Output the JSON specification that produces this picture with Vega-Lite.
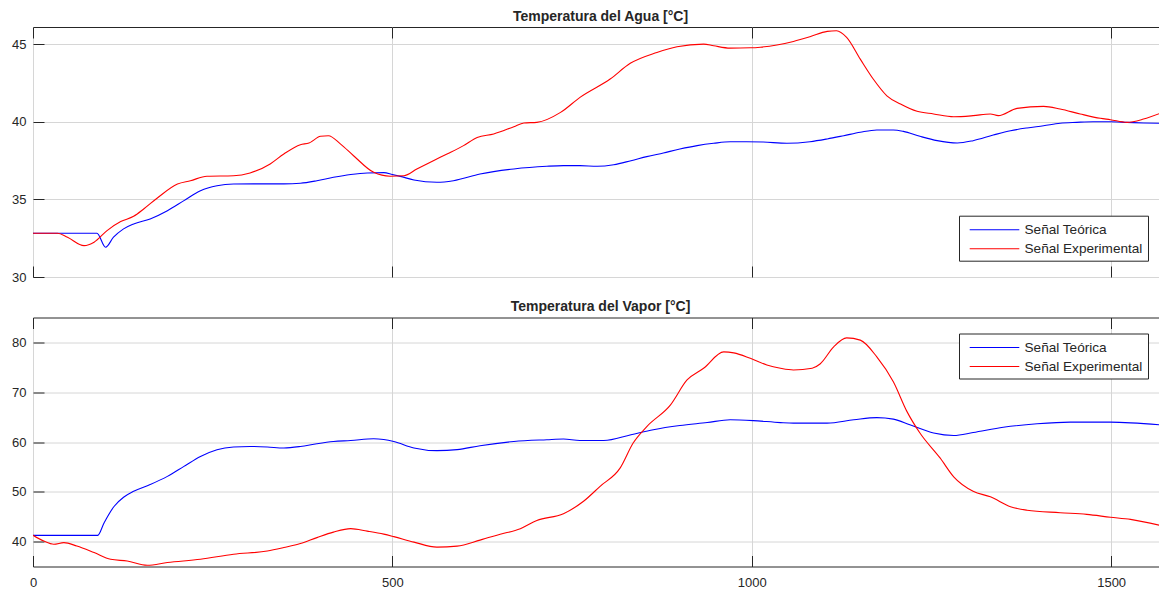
{
  "$schema": "https://vega.github.io/schema/vega-lite/v6.json",
  "padding": {"top": 9, "left": 0, "right": 0, "bottom": 0},
  "datasets": {
    "agua": [
      {"s":"Señal Teórica","t":0,"v":32.82},{"s":"Señal Teórica","t":89,"v":32.82},{"s":"Señal Teórica","t":101,"v":31.92},{"s":"Señal Teórica","t":112,"v":32.56},{"s":"Señal Teórica","t":126,"v":33.1},{"s":"Señal Teórica","t":140,"v":33.42},{"s":"Señal Teórica","t":163,"v":33.74},{"s":"Señal Teórica","t":187,"v":34.27},{"s":"Señal Teórica","t":210,"v":34.92},{"s":"Señal Teórica","t":233,"v":35.56},{"s":"Señal Teórica","t":256,"v":35.88},{"s":"Señal Teórica","t":279,"v":35.99},{"s":"Señal Teórica","t":326,"v":36.0},{"s":"Señal Teórica","t":349,"v":36.0},{"s":"Señal Teórica","t":372,"v":36.04},{"s":"Señal Teórica","t":395,"v":36.2},{"s":"Señal Teórica","t":418,"v":36.42},{"s":"Señal Teórica","t":442,"v":36.6},{"s":"Señal Teórica","t":465,"v":36.7},{"s":"Señal Teórica","t":488,"v":36.72},{"s":"Señal Teórica","t":500,"v":36.6},{"s":"Señal Teórica","t":511,"v":36.48},{"s":"Señal Teórica","t":530,"v":36.25},{"s":"Señal Teórica","t":562,"v":36.1},{"s":"Señal Teórica","t":585,"v":36.2},{"s":"Señal Teórica","t":622,"v":36.63},{"s":"Señal Teórica","t":669,"v":36.96},{"s":"Señal Teórica","t":715,"v":37.13},{"s":"Señal Teórica","t":738,"v":37.17},{"s":"Señal Teórica","t":761,"v":37.17},{"s":"Señal Teórica","t":785,"v":37.13},{"s":"Señal Teórica","t":808,"v":37.23},{"s":"Señal Teórica","t":832,"v":37.49},{"s":"Señal Teórica","t":854,"v":37.75},{"s":"Señal Teórica","t":877,"v":37.99},{"s":"Señal Teórica","t":900,"v":38.24},{"s":"Señal Teórica","t":924,"v":38.46},{"s":"Señal Teórica","t":947,"v":38.61},{"s":"Señal Teórica","t":970,"v":38.71},{"s":"Señal Teórica","t":993,"v":38.71},{"s":"Señal Teórica","t":1016,"v":38.69},{"s":"Señal Teórica","t":1049,"v":38.61},{"s":"Señal Teórica","t":1081,"v":38.71},{"s":"Señal Teórica","t":1105,"v":38.89},{"s":"Señal Teórica","t":1128,"v":39.1},{"s":"Señal Teórica","t":1151,"v":39.32},{"s":"Señal Teórica","t":1174,"v":39.47},{"s":"Señal Teórica","t":1197,"v":39.47},{"s":"Señal Teórica","t":1211,"v":39.38},{"s":"Señal Teórica","t":1234,"v":39.06},{"s":"Señal Teórica","t":1258,"v":38.78},{"s":"Señal Teórica","t":1286,"v":38.63},{"s":"Señal Teórica","t":1308,"v":38.78},{"s":"Señal Teórica","t":1336,"v":39.14},{"s":"Señal Teórica","t":1360,"v":39.42},{"s":"Señal Teórica","t":1383,"v":39.6},{"s":"Señal Teórica","t":1406,"v":39.74},{"s":"Señal Teórica","t":1429,"v":39.9},{"s":"Señal Teórica","t":1452,"v":39.96},{"s":"Señal Teórica","t":1475,"v":40.0},{"s":"Señal Teórica","t":1499,"v":40.0},{"s":"Señal Teórica","t":1522,"v":39.96},{"s":"Señal Teórica","t":1545,"v":39.92},{"s":"Señal Teórica","t":1568,"v":39.9},
      {"s":"Señal Experimental","t":0,"v":32.82},{"s":"Señal Experimental","t":34,"v":32.82},{"s":"Señal Experimental","t":48,"v":32.56},{"s":"Señal Experimental","t":71,"v":32.02},{"s":"Señal Experimental","t":85,"v":32.24},{"s":"Señal Experimental","t":103,"v":32.99},{"s":"Señal Experimental","t":122,"v":33.57},{"s":"Señal Experimental","t":140,"v":33.91},{"s":"Señal Experimental","t":154,"v":34.38},{"s":"Señal Experimental","t":173,"v":35.09},{"s":"Señal Experimental","t":201,"v":35.99},{"s":"Señal Experimental","t":219,"v":36.2},{"s":"Señal Experimental","t":242,"v":36.49},{"s":"Señal Experimental","t":279,"v":36.52},{"s":"Señal Experimental","t":302,"v":36.7},{"s":"Señal Experimental","t":330,"v":37.28},{"s":"Señal Experimental","t":349,"v":37.92},{"s":"Señal Experimental","t":372,"v":38.52},{"s":"Señal Experimental","t":384,"v":38.63},{"s":"Señal Experimental","t":400,"v":39.06},{"s":"Señal Experimental","t":411,"v":39.1},{"s":"Señal Experimental","t":428,"v":38.56},{"s":"Señal Experimental","t":446,"v":37.81},{"s":"Señal Experimental","t":474,"v":36.74},{"s":"Señal Experimental","t":497,"v":36.49},{"s":"Señal Experimental","t":516,"v":36.52},{"s":"Señal Experimental","t":534,"v":36.95},{"s":"Señal Experimental","t":557,"v":37.49},{"s":"Señal Experimental","t":576,"v":37.92},{"s":"Señal Experimental","t":599,"v":38.46},{"s":"Señal Experimental","t":618,"v":38.99},{"s":"Señal Experimental","t":641,"v":39.21},{"s":"Señal Experimental","t":669,"v":39.68},{"s":"Señal Experimental","t":683,"v":39.92},{"s":"Señal Experimental","t":701,"v":39.96},{"s":"Señal Experimental","t":734,"v":40.6},{"s":"Señal Experimental","t":761,"v":41.57},{"s":"Señal Experimental","t":803,"v":42.75},{"s":"Señal Experimental","t":831,"v":43.76},{"s":"Señal Experimental","t":868,"v":44.46},{"s":"Señal Experimental","t":896,"v":44.83},{"s":"Señal Experimental","t":933,"v":45.0},{"s":"Señal Experimental","t":947,"v":44.89},{"s":"Señal Experimental","t":970,"v":44.74},{"s":"Señal Experimental","t":998,"v":44.76},{"s":"Señal Experimental","t":1012,"v":44.8},{"s":"Señal Experimental","t":1035,"v":44.94},{"s":"Señal Experimental","t":1058,"v":45.17},{"s":"Señal Experimental","t":1081,"v":45.47},{"s":"Señal Experimental","t":1105,"v":45.82},{"s":"Señal Experimental","t":1118,"v":45.86},{"s":"Señal Experimental","t":1132,"v":45.43},{"s":"Señal Experimental","t":1151,"v":44.03},{"s":"Señal Experimental","t":1169,"v":42.75},{"s":"Señal Experimental","t":1188,"v":41.67},{"s":"Señal Experimental","t":1207,"v":41.14},{"s":"Señal Experimental","t":1230,"v":40.67},{"s":"Señal Experimental","t":1253,"v":40.5},{"s":"Señal Experimental","t":1281,"v":40.32},{"s":"Señal Experimental","t":1308,"v":40.39},{"s":"Señal Experimental","t":1332,"v":40.5},{"s":"Señal Experimental","t":1343,"v":40.39},{"s":"Señal Experimental","t":1369,"v":40.86},{"s":"Señal Experimental","t":1406,"v":40.99},{"s":"Señal Experimental","t":1429,"v":40.82},{"s":"Señal Experimental","t":1457,"v":40.5},{"s":"Señal Experimental","t":1485,"v":40.22},{"s":"Señal Experimental","t":1499,"v":40.13},{"s":"Señal Experimental","t":1522,"v":39.96},{"s":"Señal Experimental","t":1545,"v":40.17},{"s":"Señal Experimental","t":1568,"v":40.54}
    ],
    "vapor": [
      {"s":"Señal Teórica","t":0,"v":41.26},{"s":"Señal Teórica","t":90,"v":41.26},{"s":"Señal Teórica","t":99,"v":43.8},{"s":"Señal Teórica","t":113,"v":47.1},{"s":"Señal Teórica","t":126,"v":48.9},{"s":"Señal Teórica","t":140,"v":50.1},{"s":"Señal Teórica","t":163,"v":51.46},{"s":"Señal Teórica","t":187,"v":53.1},{"s":"Señal Teórica","t":210,"v":55.1},{"s":"Señal Teórica","t":233,"v":57.1},{"s":"Señal Teórica","t":256,"v":58.46},{"s":"Señal Teórica","t":279,"v":59.0},{"s":"Señal Teórica","t":302,"v":59.1},{"s":"Señal Teórica","t":326,"v":59.0},{"s":"Señal Teórica","t":349,"v":58.8},{"s":"Señal Teórica","t":372,"v":59.1},{"s":"Señal Teórica","t":395,"v":59.66},{"s":"Señal Teórica","t":418,"v":60.1},{"s":"Señal Teórica","t":442,"v":60.3},{"s":"Señal Teórica","t":474,"v":60.66},{"s":"Señal Teórica","t":488,"v":60.5},{"s":"Señal Teórica","t":502,"v":60.1},{"s":"Señal Teórica","t":530,"v":58.8},{"s":"Señal Teórica","t":562,"v":58.26},{"s":"Señal Teórica","t":590,"v":58.46},{"s":"Señal Teórica","t":622,"v":59.26},{"s":"Señal Teórica","t":669,"v":60.1},{"s":"Señal Teórica","t":715,"v":60.46},{"s":"Señal Teórica","t":738,"v":60.6},{"s":"Señal Teórica","t":761,"v":60.3},{"s":"Señal Teórica","t":794,"v":60.3},{"s":"Señal Teórica","t":832,"v":61.46},{"s":"Señal Teórica","t":863,"v":62.46},{"s":"Señal Teórica","t":900,"v":63.3},{"s":"Señal Teórica","t":938,"v":63.9},{"s":"Señal Teórica","t":970,"v":64.46},{"s":"Señal Teórica","t":1002,"v":64.3},{"s":"Señal Teórica","t":1040,"v":63.9},{"s":"Señal Teórica","t":1058,"v":63.8},{"s":"Señal Teórica","t":1105,"v":63.8},{"s":"Señal Teórica","t":1142,"v":64.46},{"s":"Señal Teórica","t":1174,"v":64.9},{"s":"Señal Teórica","t":1197,"v":64.6},{"s":"Señal Teórica","t":1220,"v":63.46},{"s":"Señal Teórica","t":1253,"v":61.8},{"s":"Señal Teórica","t":1281,"v":61.3},{"s":"Señal Teórica","t":1308,"v":61.9},{"s":"Señal Teórica","t":1350,"v":62.96},{"s":"Señal Teórica","t":1397,"v":63.66},{"s":"Señal Teórica","t":1443,"v":64.0},{"s":"Señal Teórica","t":1499,"v":64.0},{"s":"Señal Teórica","t":1568,"v":63.46},
      {"s":"Señal Experimental","t":0,"v":41.26},{"s":"Señal Experimental","t":15,"v":40.1},{"s":"Señal Experimental","t":29,"v":39.46},{"s":"Señal Experimental","t":43,"v":39.8},{"s":"Señal Experimental","t":61,"v":39.1},{"s":"Señal Experimental","t":85,"v":37.8},{"s":"Señal Experimental","t":108,"v":36.46},{"s":"Señal Experimental","t":131,"v":36.1},{"s":"Señal Experimental","t":159,"v":35.26},{"s":"Señal Experimental","t":187,"v":35.8},{"s":"Señal Experimental","t":233,"v":36.46},{"s":"Señal Experimental","t":279,"v":37.46},{"s":"Señal Experimental","t":326,"v":38.1},{"s":"Señal Experimental","t":349,"v":38.8},{"s":"Señal Experimental","t":372,"v":39.6},{"s":"Señal Experimental","t":395,"v":40.8},{"s":"Señal Experimental","t":418,"v":41.9},{"s":"Señal Experimental","t":442,"v":42.6},{"s":"Señal Experimental","t":465,"v":42.1},{"s":"Señal Experimental","t":488,"v":41.5},{"s":"Señal Experimental","t":502,"v":41.0},{"s":"Señal Experimental","t":530,"v":39.9},{"s":"Señal Experimental","t":562,"v":38.9},{"s":"Señal Experimental","t":590,"v":39.1},{"s":"Señal Experimental","t":622,"v":40.3},{"s":"Señal Experimental","t":650,"v":41.46},{"s":"Señal Experimental","t":678,"v":42.6},{"s":"Señal Experimental","t":701,"v":44.26},{"s":"Señal Experimental","t":738,"v":45.6},{"s":"Señal Experimental","t":766,"v":48.1},{"s":"Señal Experimental","t":789,"v":51.1},{"s":"Señal Experimental","t":817,"v":54.8},{"s":"Señal Experimental","t":835,"v":59.8},{"s":"Señal Experimental","t":854,"v":63.1},{"s":"Señal Experimental","t":887,"v":67.46},{"s":"Señal Experimental","t":910,"v":72.46},{"s":"Señal Experimental","t":933,"v":74.8},{"s":"Señal Experimental","t":961,"v":78.1},{"s":"Señal Experimental","t":975,"v":77.9},{"s":"Señal Experimental","t":998,"v":76.8},{"s":"Señal Experimental","t":1021,"v":75.46},{"s":"Señal Experimental","t":1040,"v":74.8},{"s":"Señal Experimental","t":1058,"v":74.46},{"s":"Señal Experimental","t":1084,"v":74.8},{"s":"Señal Experimental","t":1095,"v":75.66},{"s":"Señal Experimental","t":1114,"v":79.1},{"s":"Señal Experimental","t":1132,"v":80.9},{"s":"Señal Experimental","t":1151,"v":80.46},{"s":"Señal Experimental","t":1174,"v":77.1},{"s":"Señal Experimental","t":1197,"v":72.1},{"s":"Señal Experimental","t":1216,"v":66.1},{"s":"Señal Experimental","t":1234,"v":61.8},{"s":"Señal Experimental","t":1262,"v":56.8},{"s":"Señal Experimental","t":1281,"v":53.0},{"s":"Señal Experimental","t":1308,"v":50.1},{"s":"Señal Experimental","t":1332,"v":49.0},{"s":"Señal Experimental","t":1360,"v":47.0},{"s":"Señal Experimental","t":1383,"v":46.3},{"s":"Señal Experimental","t":1429,"v":45.8},{"s":"Señal Experimental","t":1466,"v":45.46},{"s":"Señal Experimental","t":1499,"v":44.9},{"s":"Señal Experimental","t":1527,"v":44.46},{"s":"Señal Experimental","t":1568,"v":43.26}
    ]
  },
  "vconcat": [
    {
      "width": 1127,
      "height": 250,
      "title": {"text": "Temperatura del Agua [°C]", "dx": 4},
      "data": {"name": "agua"},
      "layer": [
        {
          "mark": {"type": "line", "strokeWidth": 1.1, "clip": true, "interpolate": "monotone"},
          "encoding": {
            "x": {"field": "t", "type": "quantitative", "scale": {"domain": [0, 1568], "nice": false, "zero": false},
                  "axis": {"title": null, "values": [0, 500, 1000, 1500], "labels": false, "labelPadding": 6}},
            "y": {"field": "v", "type": "quantitative", "scale": {"domain": [30, 46.1], "nice": false, "zero": false},
                  "axis": {"title": null, "values": [30, 35, 40, 45]}},
            "color": {"field": "s", "type": "nominal",
                      "scale": {"domain": ["Señal Teórica", "Señal Experimental"], "range": ["#0000ff", "#ff0000"]},
                      "legend": {"title": null, "orient": "none", "legendX": 926, "legendY": 188.7}}
          }
        },
        {
          "mark": {"type": "point", "opacity": 0},
          "encoding": {
            "x": {"field": "t", "type": "quantitative", "scale": {"domain": [0, 1568], "nice": false, "zero": false},
                  "axis": {"title": null, "orient": "top", "values": [0, 500, 1000, 1500], "labels": false, "grid": false, "labelPadding": 0}},
            "y": {"field": "v", "type": "quantitative"}
          }
        }
      ],
      "resolve": {"axis": {"x": "independent"}}
    },
    {
      "width": 1127,
      "height": 249,
      "title": {"text": "Temperatura del Vapor [°C]", "dx": 4},
      "data": {"name": "vapor"},
      "layer": [
        {
          "mark": {"type": "line", "strokeWidth": 1.1, "clip": true, "interpolate": "monotone"},
          "encoding": {
            "x": {"field": "t", "type": "quantitative", "scale": {"domain": [0, 1568], "nice": false, "zero": false},
                  "axis": {"title": null, "values": [0, 500, 1000, 1500], "format": "d", "labelPadding": 20.5, "labelFlush": false}},
            "y": {"field": "v", "type": "quantitative", "scale": {"domain": [35, 85], "nice": false, "zero": false},
                  "axis": {"title": null, "values": [40, 50, 60, 70, 80]}},
            "color": {"field": "s", "type": "nominal",
                      "scale": {"domain": ["Señal Teórica", "Señal Experimental"], "range": ["#0000ff", "#ff0000"]},
                      "legend": {"title": null, "orient": "none", "legendX": 926, "legendY": 16}}
          }
        },
        {
          "mark": {"type": "point", "opacity": 0},
          "encoding": {
            "x": {"field": "t", "type": "quantitative", "scale": {"domain": [0, 1568], "nice": false, "zero": false},
                  "axis": {"title": null, "orient": "top", "values": [0, 500, 1000, 1500], "labels": false, "grid": false, "labelPadding": 0}},
            "y": {"field": "v", "type": "quantitative"}
          }
        }
      ],
      "resolve": {"axis": {"x": "independent"}}
    }
  ],
  "resolve": {"scale": {"color": "independent"}, "legend": {"color": "independent"}},
  "config": {
    "font": "Liberation Sans",
    "background": "white",
    "concat": {"spacing": 14.5},
    "view": {"stroke": "#262626", "strokeWidth": 1},
    "title": {"fontSize": 14, "fontWeight": "bold", "color": "#262626", "offset": 3, "anchor": "middle"},
    "axis": {
      "domain": false,
      "grid": true,
      "gridColor": "#d6d6d6",
      "gridWidth": 1,
      "tickColor": "#262626",
      "tickSize": -11,
      "labelColor": "#262626",
      "labelFontSize": 13,
      "labelPadding": 18
    },
    "axisY": {"minExtent": 32, "maxExtent": 32},
    "legend": {
      "strokeColor": "#262626",
      "fillColor": "white",
      "padding": 5,
      "symbolType": "M-3.1,0H3.1",
      "symbolSize": 256,
      "symbolStrokeWidth": 1.1,
      "symbolOffset": 21.5,
      "labelOffset": 21,
      "rowPadding": 3,
      "labelFontSize": 13.6,
      "labelColor": "#262626",
      "cornerRadius": 0
    }
  }
}
